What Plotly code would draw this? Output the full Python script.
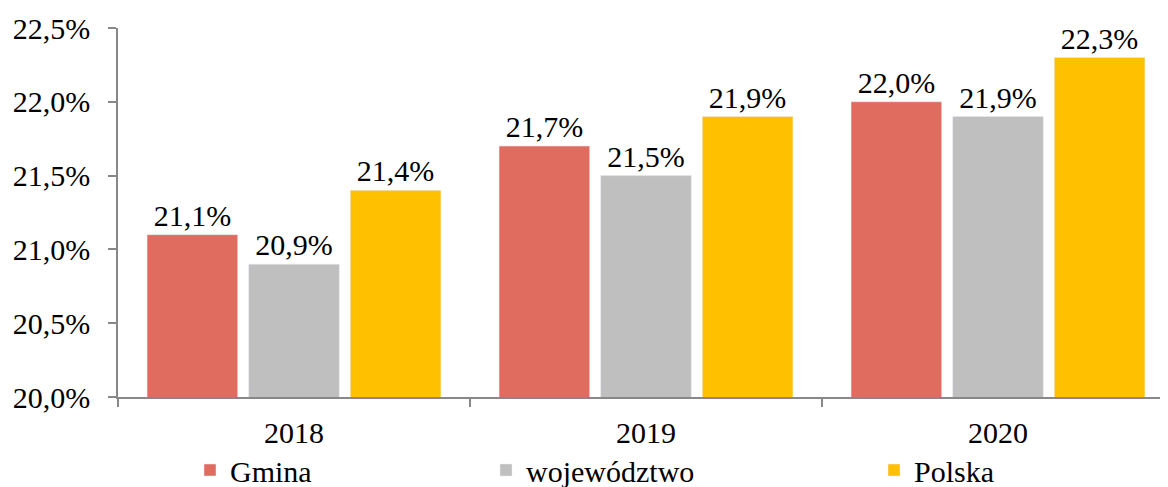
import plotly.graph_objects as go

years = ["2018", "2019", "2020"]
gmina = [21.1, 21.7, 22.0]
wojewodztwo = [20.9, 21.5, 21.9]
polska = [21.4, 21.9, 22.3]

# name, values, colour, legend id, legend x (px from left of figure)
series = [
    ("Gmina", gmina, "#E06C5F", "legend", 182),
    ("województwo", wojewodztwo, "#BFBFBF", "legend2", 478),
    ("Polska", polska, "#FFC000", "legend3", 866),
]

FONT = "Liberation Serif"
# page body has an 8px margin, so the figure is drawn 8px in from the window corner
W, H = 1160, 479

fig = go.Figure()
for name, vals, color, leg, _ in series:
    fig.add_trace(go.Bar(
        x=years, y=vals, name=name, marker_color=color, legend=leg,
        texttemplate="%{y:.1f}%", textposition="outside", cliponaxis=False,
        textfont=dict(family=FONT, size=30, color="#000000"),
    ))

legends = {}
for name, vals, color, leg, xpx in series:
    legends[leg] = dict(
        x=xpx / W, y=(H - 462) / H, xref="container", yref="container",
        xanchor="left", yanchor="middle", orientation="h",
        font=dict(family=FONT, size=30, color="#000000"),
        bgcolor="rgba(0,0,0,0)", itemwidth=30,
    )

fig.update_layout(
    width=W, height=H,
    margin=dict(l=110, r=0, t=20, b=90, autoexpand=False),
    paper_bgcolor="white", plot_bgcolor="white",
    barmode="group", bargap=0.134, bargroupgap=0.108,
    separators=", ",
    font=dict(family=FONT, size=30, color="#000000"),
    showlegend=True,
    **legends,
)
fig.update_yaxes(
    range=[20, 22.5], dtick=0.5, tickformat=".1f", ticksuffix="%",
    showgrid=False, zeroline=False, showline=True, linecolor="#888888", linewidth=1.5,
    ticks="outside", ticklen=8, tickcolor="#888888", tickwidth=1.5,
    tickfont=dict(family=FONT, size=30, color="#000000"), ticklabelstandoff=12,
    automargin=False,
)
# the original plot area runs a few pixels past the right edge of the window
fig.update_xaxes(
    range=[-0.5, 2.483],
    showgrid=False, showline=True, linecolor="#888888", linewidth=1.5,
    ticks="outside", tickson="boundaries", ticklen=8, tickcolor="#888888", tickwidth=1.5,
    tickfont=dict(family=FONT, size=30, color="#000000"), ticklabelstandoff=8,
    automargin=False,
)

fig.write_html("out.html")
